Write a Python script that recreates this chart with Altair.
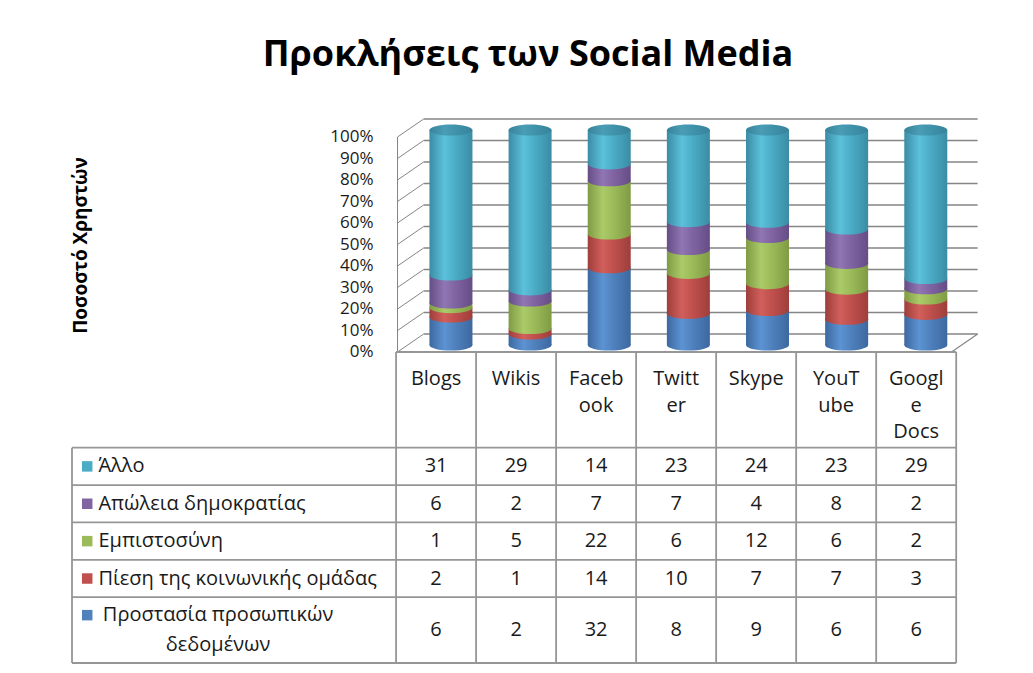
import altair as alt
import pandas as pd

# ---------------- data ----------------
CATEGORIES = ["Blogs", "Wikis", "Facebook", "Twitter", "Skype", "YouTube", "Google Docs"]
HEADER_LABELS = ["Blogs", "Wikis", "Faceb\nook", "Twitt\ner", "Skype", "YouT\nube", "Googl\ne\nDocs"]

SERIES = ["Άλλο", "Απώλεια δημοκρατίας", "Εμπιστοσύνη",
          "Πίεση της κοινωνικής ομάδας", "Προστασία προσωπικών δεδομένων"]
SERIES_LABELS = ["Άλλο", "Απώλεια δημοκρατίας", "Εμπιστοσύνη",
                 "Πίεση  της κοινωνικής  ομάδας", "Προστασία προσωπικών\nδεδομένων"]

VAL_ALLO = [31, 29, 14, 23, 24, 23, 29]
VAL_APOLEIA = [6, 2, 7, 7, 4, 8, 2]
VAL_EMPISTOSYNI = [1, 5, 22, 6, 12, 6, 2]
VAL_PIESI = [2, 1, 14, 10, 7, 7, 3]
VAL_PROSTASIA = [6, 2, 32, 8, 9, 6, 6]
SERIES_VALUES = [VAL_ALLO, VAL_APOLEIA, VAL_EMPISTOSYNI, VAL_PIESI, VAL_PROSTASIA]

TICKS = [0, 0.1, 0.2, 0.3, 0.4, 0.5, 0.6, 0.7, 0.8, 0.9, 1.0]

TITLE = "Προκλήσεις των Social Media"
Y_TITLE = "Ποσοστό Χρηστών"

# ---------------- styles / layout ----------------
FONT = "Open Sans"
BASE = ["#4BACC6", "#8064A2", "#9BBB59", "#C0504D", "#4F81BD"]
DARK = ["#3A8CA4", "#654D86", "#7F9B44", "#9E3E3B", "#3D68A0"]
LIGHT = ["#5CC1DC", "#9076B3", "#ABCA68", "#D15F5B", "#5C93D3"]
CAP = ["#37839A", "#4A9DB5", "#3F93AB", "#37839A"]
GRID = "#858585"
TABLE_LINE = "#969696"
TEXT = "#1A1A1A"

X_MIN, X_MAX = -4.05, 7.36      # label column + 7 category columns + depth
COL_PX = 80
WIDTH = round((X_MAX - X_MIN) * COL_PX)
TOP_H = 215
WALL_DX = 0.33
FRONT_DY, BACK_DY = 7, -11
BAR_W = 43
BAR_SHIFT = 0.175
ELLIPSE = "M-1,0A1,0.26,0,1,1,1,0A1,0.26,0,1,1,-1,0Z"

ROW_UNITS = [3.2, 1.25, 1.25, 1.25, 1.25, 2.2]  # header + one row per series
TABLE_H = 311

XSCALE = alt.Scale(domain=[X_MIN, X_MAX], nice=False, zero=False)
YSCALE = alt.Scale(domain=[0, 1], nice=False, zero=False)

n_cat = len(CATEGORIES)
n_ser = len(SERIES)

rows = []
for si, (s, vals) in enumerate(zip(SERIES, SERIES_VALUES)):
    for ci, (c, v) in enumerate(zip(CATEGORIES, vals)):
        rows.append({"cat": c, "idx": ci, "series": s, "si": si,
                     "stack": n_ser - 1 - si, "value": v})
df = pd.DataFrame(rows)
ticks_df = pd.DataFrame({"t": TICKS})


def grad(colors):
    offs = [0, 0.35, 0.6, 1]
    return alt.LinearGradient(
        gradient="linear", x1=0, x2=1, y1=0, y2=0,
        stops=[alt.GradientStop(color=c, offset=o) for c, o in zip(colors, offs)])


# ---------------- top chart (3D-looking 100% stacked cylinders) ----------------
tick_base = alt.Chart(ticks_df)

back_grid = tick_base.mark_rule(color=GRID, strokeWidth=1.3, yOffset=BACK_DY).encode(
    x=alt.XDatum(WALL_DX, scale=XSCALE, axis=None),
    x2=alt.X2Datum(n_cat + WALL_DX),
    y=alt.Y("t:Q", scale=YSCALE, axis=None),
)
side_diag = tick_base.mark_rule(color=GRID, strokeWidth=1, yOffset=FRONT_DY, y2Offset=BACK_DY).encode(
    x=alt.XDatum(0, scale=XSCALE, axis=None),
    x2=alt.X2Datum(WALL_DX),
    y=alt.Y("t:Q", scale=YSCALE, axis=None),
    y2="t:Q",
)
front_edge = alt.Chart(pd.DataFrame({"a": [0], "b": [1]})).mark_rule(
    color=GRID, strokeWidth=1, yOffset=FRONT_DY, y2Offset=FRONT_DY).encode(
    x=alt.XDatum(0, scale=XSCALE, axis=None),
    y=alt.Y("a:Q", scale=YSCALE, axis=None),
    y2="b:Q",
)
floor_diag = alt.Chart(pd.DataFrame({"a": [0]})).mark_rule(
    color=GRID, strokeWidth=1.2, yOffset=FRONT_DY, y2Offset=BACK_DY).encode(
    x=alt.XDatum(n_cat, scale=XSCALE, axis=None),
    x2=alt.X2Datum(n_cat + WALL_DX),
    y=alt.Y("a:Q", scale=YSCALE, axis=None),
    y2="a:Q",
)
pct_labels = tick_base.mark_text(
    font=FONT, fontSize=17, color=TEXT, align="right", baseline="middle", dx=-24, dy=FRONT_DY
).encode(
    x=alt.XDatum(0, scale=XSCALE, axis=None),
    y=alt.Y("t:Q", scale=YSCALE, axis=None),
    text=alt.Text("t:Q", format=".0%"),
)
y_title = alt.Chart(pd.DataFrame({"title": [Y_TITLE]})).mark_text(
    font=FONT, fontSize=19, fontWeight="bold", color="#000", angle=270,
    align="center", baseline="middle", dx=-8, dy=4
).encode(
    x=alt.XDatum(X_MIN, scale=XSCALE, axis=None),
    y=alt.YDatum(0.5, scale=YSCALE, axis=None),
    text="title:N",
)

stacked = (
    alt.Chart(df)
    .transform_joinaggregate(total="sum(value)", groupby=["cat"])
    .transform_window(cum="sum(value)", groupby=["cat"],
                      sort=[alt.SortField("stack", order="ascending")], frame=[None, 0])
    .transform_calculate(
        y0="(datum.cum - datum.value) / datum.total",
        y1="datum.cum / datum.total",
        xc=f"datum.idx + 0.5 + {BAR_SHIFT}",
    )
)

bar_layers = []
for si in reversed(range(n_ser)):  # bottom of the stack first
    s = SERIES[si]
    g = grad([DARK[si], LIGHT[si], BASE[si], DARK[si]])
    seg = stacked.transform_filter(alt.datum.series == s)
    body = seg.mark_bar(width=BAR_W, color=g).encode(
        x=alt.X("xc:Q", scale=XSCALE, axis=None),
        y=alt.Y("y0:Q", scale=YSCALE, axis=None),
        y2="y1:Q",
    )
    rim = seg.mark_point(shape=ELLIPSE, size=BAR_W * BAR_W, filled=True, opacity=1,
                         color=g, strokeWidth=0).encode(
        x=alt.X("xc:Q", scale=XSCALE, axis=None),
        y=alt.Y("y0:Q", scale=YSCALE, axis=None),
    )
    bar_layers += [body, rim]

cap = stacked.transform_filter(alt.datum.series == SERIES[0]).mark_point(
    shape=ELLIPSE, size=BAR_W * BAR_W, filled=True, opacity=1, color=grad(CAP), strokeWidth=0
).encode(
    x=alt.X("xc:Q", scale=XSCALE, axis=None),
    y=alt.Y("y1:Q", scale=YSCALE, axis=None),
)

top = alt.layer(back_grid, side_diag, front_edge, floor_diag, pct_labels, y_title,
                *bar_layers, cap).properties(width=WIDTH, height=TOP_H)

# ---------------- bottom chart (data table) ----------------
total_units = sum(ROW_UNITS)
row_tops = [sum(ROW_UNITS[:i]) for i in range(len(ROW_UNITS))]
row_bots = [row_tops[i] + ROW_UNITS[i] for i in range(len(ROW_UNITS))]
TY = alt.Scale(domain=[0, total_units], reverse=True, nice=False, zero=False)

label_rows = []
for si, s in enumerate(SERIES):
    r = si + 1
    lines = SERIES_LABELS[si].split("\n")
    center = (row_tops[r] + row_bots[r]) / 2
    label_rows.append({"series": s, "lines": lines, "n": len(lines), "yc": center,
                       "ysq": center - (len(lines) - 1) * 0.5})
labels_df = pd.DataFrame(label_rows)

vals_df = df.copy()
vals_df["xc"] = vals_df["idx"] + 0.5
vals_df["yc"] = [(row_tops[r + 1] + row_bots[r + 1]) / 2 for r in vals_df["si"]]

header_df = pd.DataFrame({"xc": [i + 0.5 for i in range(n_cat)],
                          "lines": [h.split("\n") for h in HEADER_LABELS],
                          "y": [0] * n_cat})

hl = [{"y": 0, "x1": 0, "x2": n_cat}] + [
    {"y": row_tops[r], "x1": X_MIN, "x2": n_cat} for r in range(1, len(ROW_UNITS))
] + [{"y": total_units, "x1": X_MIN, "x2": n_cat}]
vl = [{"x": k, "y1": 0, "y2": total_units} for k in range(n_cat + 1)] + [
    {"x": X_MIN, "y1": row_tops[1], "y2": total_units}]

hlines = alt.Chart(pd.DataFrame(hl)).mark_rule(color=TABLE_LINE, strokeWidth=1.8).encode(
    x=alt.X("x1:Q", scale=XSCALE, axis=None), x2="x2:Q",
    y=alt.Y("y:Q", scale=TY, axis=None))
vlines = alt.Chart(pd.DataFrame(vl)).mark_rule(color=TABLE_LINE, strokeWidth=1.8).encode(
    x=alt.X("x:Q", scale=XSCALE, axis=None),
    y=alt.Y("y1:Q", scale=TY, axis=None), y2="y2:Q")

header_txt = alt.Chart(header_df).mark_text(
    font=FONT, fontSize=20, color=TEXT, baseline="top", align="center", dy=17, lineHeight=26.5
).encode(x=alt.X("xc:Q", scale=XSCALE, axis=None), y=alt.Y("y:Q", scale=TY, axis=None),
         text="lines")

value_txt = alt.Chart(vals_df).mark_text(
    font=FONT, fontSize=20, color=TEXT, baseline="middle", align="center"
).encode(x=alt.X("xc:Q", scale=XSCALE, axis=None), y=alt.Y("yc:Q", scale=TY, axis=None),
         text="value:Q")

squares = alt.Chart(labels_df).mark_point(shape="square", filled=True, opacity=1, size=110).encode(
    x=alt.XDatum(X_MIN + 0.19, scale=XSCALE, axis=None),
    y=alt.Y("ysq:Q", scale=TY, axis=None),
    color=alt.Color("series:N", scale=alt.Scale(domain=SERIES, range=BASE), legend=None),
)
label_single = alt.Chart(labels_df).transform_filter("datum.n == 1").mark_text(
    font=FONT, fontSize=20, color=TEXT, baseline="middle", align="left"
).encode(x=alt.XDatum(X_MIN + 0.33, scale=XSCALE, axis=None),
         y=alt.Y("yc:Q", scale=TY, axis=None), text="lines")
label_multi = alt.Chart(labels_df).transform_filter("datum.n > 1").mark_text(
    font=FONT, fontSize=20, color=TEXT, baseline="middle", align="center", lineHeight=30
).encode(x=alt.XDatum(X_MIN / 2 - 0.2, scale=XSCALE, axis=None),
         y=alt.Y("ysq:Q", scale=TY, axis=None), text="lines")

bottom = alt.layer(hlines, vlines, header_txt, value_txt, squares, label_single, label_multi).properties(
    width=WIDTH, height=TABLE_H)

chart = (
    alt.vconcat(top, bottom, spacing=FRONT_DY, bounds="flush")
    .properties(
        title=alt.TitleParams(TITLE, font=FONT, fontSize=36, fontWeight="bold", color="#000",
                              anchor="middle", offset=44),
        padding={"left": 63, "top": 29, "right": 5, "bottom": 2},
    )
    .configure(font=FONT)
    .configure_view(stroke="transparent", strokeWidth=0)
)

chart.save("out.html", embed_options={"renderer": "svg", "actions": False})
